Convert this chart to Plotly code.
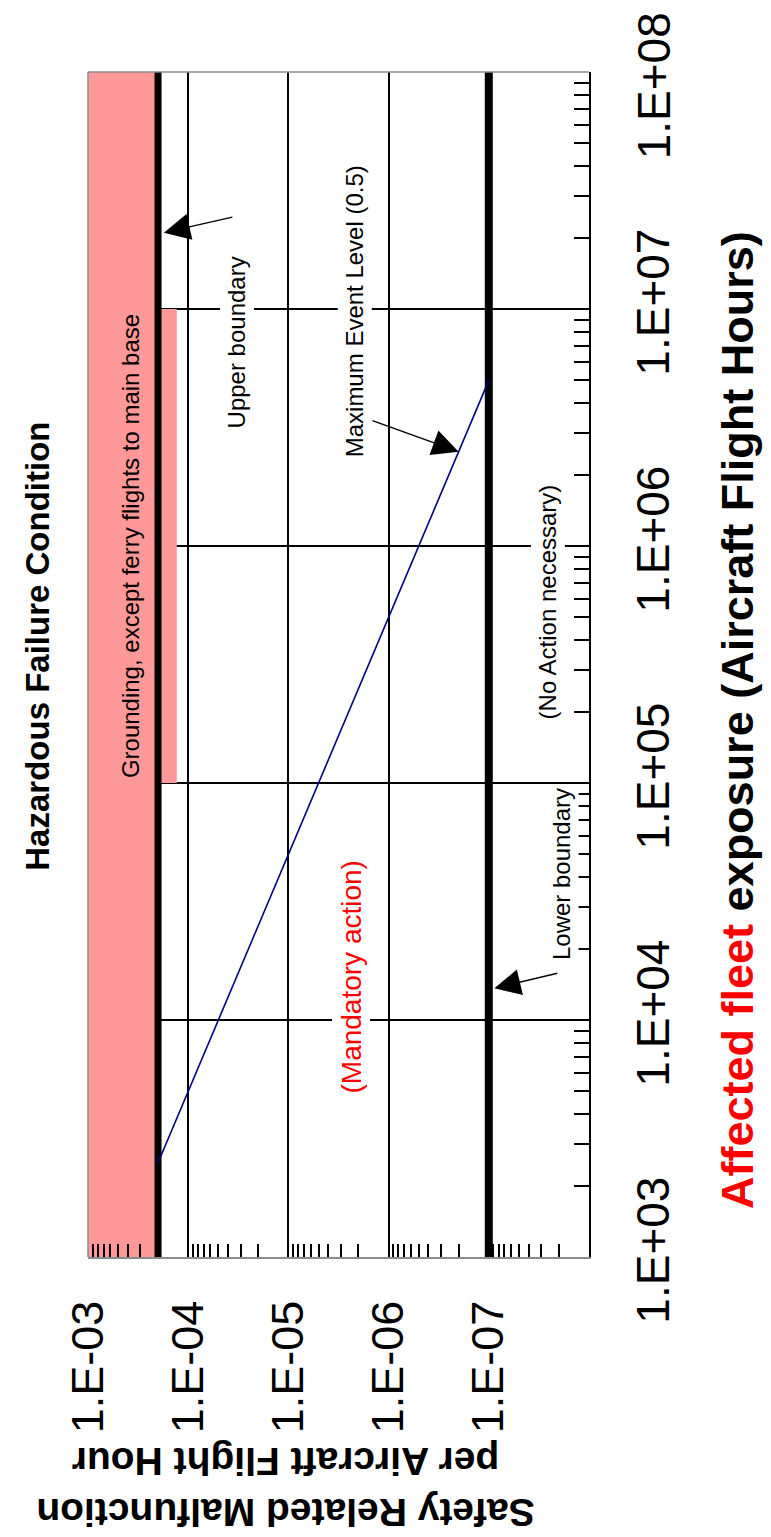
import numpy as np
import plotly.graph_objects as go

# ---------------- data ----------------
hours_range = [1e3, 1e8]                 # affected fleet exposure (flight hours)
rate_range = [1e-3, 1e-8]                # malfunctions per flight hour (reversed)
upper_boundary = 2e-4
lower_boundary = 1e-7
mel_hours = [2.5e3, 5e6]                 # Maximum Event Level (0.5) line
mel_rate = [2e-4, 1e-7]
grounding_rate = [1e-3, 2e-4]            # pink grounding zone
grounding_ext_rate = [2e-4, 1.3e-4]
grounding_ext_hours = [1e5, 1e7]

rate_tickvals = [1e-3, 1e-4, 1e-5, 1e-6, 1e-7]
rate_ticktext = ["1.E-03", "1.E-04", "1.E-05", "1.E-06", "1.E-07"]
hours_tickvals = [1e3, 1e4, 1e5, 1e6, 1e7, 1e8]
hours_ticktext = ["1.E+03", "1.E+04", "1.E+05", "1.E+06", "1.E+07", ""]
top_hours_label = "1.E+08"
minor_mantissas = [2, 3, 4, 5, 6, 7, 8, 9]

rate_minor = [m * d for d in [1e-4, 1e-5, 1e-6, 1e-7, 1e-8] for m in minor_mantissas]
hours_minor = [m * d for d in [1e3, 1e4, 1e5, 1e6, 1e7] for m in minor_mantissas]

FONT = "Liberation Sans, Arial, sans-serif"
PINK = "#FF9999"
L = np.log10

fig = go.Figure()

# grounding zone
fig.add_trace(go.Scatter(
    x=[grounding_rate[0], grounding_rate[1], grounding_rate[1], grounding_rate[0], grounding_rate[0]],
    y=[hours_range[0], hours_range[0], hours_range[1], hours_range[1], hours_range[0]],
    fill="toself", fillcolor=PINK, line=dict(width=0), mode="lines",
    hoverinfo="skip", showlegend=False))
fig.add_trace(go.Scatter(
    x=[grounding_ext_rate[0], grounding_ext_rate[1], grounding_ext_rate[1], grounding_ext_rate[0], grounding_ext_rate[0]],
    y=[grounding_ext_hours[0], grounding_ext_hours[0], grounding_ext_hours[1], grounding_ext_hours[1], grounding_ext_hours[0]],
    fill="toself", fillcolor=PINK, line=dict(width=0), mode="lines",
    hoverinfo="skip", showlegend=False))

# boundaries
fig.add_trace(go.Scatter(x=[upper_boundary, upper_boundary], y=hours_range, mode="lines",
                         line=dict(color="black", width=7), showlegend=False))
fig.add_trace(go.Scatter(x=[lower_boundary, lower_boundary], y=hours_range, mode="lines",
                         line=dict(color="black", width=8), showlegend=False))
# maximum event level
fig.add_trace(go.Scatter(x=mel_rate, y=mel_hours, mode="lines",
                         line=dict(color="#000080", width=1.6), showlegend=False))

fig.update_layout(
    width=763, height=1529,
    margin=dict(l=80, r=182, t=64, b=280),
    paper_bgcolor="white", plot_bgcolor="white",
    font=dict(family=FONT, color="black"),
    showlegend=False,
)

fig.update_xaxes(
    type="log", range=[L(rate_range[0]), L(rate_range[1])],
    tickmode="array", tickvals=rate_tickvals, ticktext=rate_ticktext,
    tickangle=-90, tickfont=dict(size=45, family=FONT),
    ticks="inside", ticklen=15, tickwidth=1.5, tickcolor="black",
    ticklabelstandoff=24,
    showgrid=True, gridcolor="black", gridwidth=1.5,
    showline=True, linecolor="#8c8c8c", linewidth=1.5,
    zeroline=False, layer="above traces",
    minor=dict(tickmode="array", tickvals=rate_minor, ticks="inside",
               ticklen=13, tickwidth=1.5, tickcolor="black", showgrid=False),
)
fig.update_yaxes(
    type="log", range=[L(hours_range[0]), L(hours_range[1])], side="right",
    tickmode="array", tickvals=hours_tickvals, ticktext=hours_ticktext,
    tickangle=-90, tickfont=dict(size=46, family=FONT),
    ticks="inside", ticklen=15, tickwidth=1.5, tickcolor="black",
    ticklabelstandoff=23,
    showgrid=True, gridcolor="black", gridwidth=1.5,
    showline=True, linecolor="black", linewidth=2,
    zeroline=False, layer="above traces",
    minor=dict(tickmode="array", tickvals=hours_minor, ticks="inside",
               ticklen=15, tickwidth=1.5, tickcolor="black", showgrid=False),
)

# gray plot border (left/top)
for x0, y0, x1, y1 in [(0, 0, 0, 1), (0, 1, 1, 1)]:
    fig.add_shape(type="line", xref="paper", yref="paper", x0=x0, y0=y0, x1=x1, y1=y1,
                  line=dict(color="#8c8c8c", width=1.5), layer="above")

anns = []
# top tick label, nudged down to stay inside the page as in the original
anns.append(dict(xref="paper", yref="paper", x=1.130, y=0.988,
                 text=top_hours_label, textangle=-90,
                 font=dict(size=46, family=FONT), showarrow=False,
                 xanchor="center", yanchor="middle"))
# titles
anns.append(dict(xref="paper", yref="paper", x=-0.0998, y=0.515,
                 text="<b>Hazardous Failure Condition</b>", textangle=-90,
                 font=dict(size=33, family=FONT), showarrow=False,
                 xanchor="center", yanchor="middle"))
anns.append(dict(xref="paper", yref="paper", x=1.295, y=0.453,
                 text="<b><span style='color:#FF0000'>Affected fleet</span> exposure (Aircraft Flight Hours)</b>",
                 textangle=-90, font=dict(size=45, family=FONT), showarrow=False,
                 xanchor="center", yanchor="middle"))
anns.append(dict(xref="paper", yref="paper", x=0.394, y=-0.194,
                 text="<b>Safety Related Malfunction<br>per Aircraft Flight Hour</b>", textangle=180,
                 font=dict(size=39, family=FONT), showarrow=False,
                 xanchor="center", yanchor="middle", align="center"))

# region labels
def lab(text, rate, hours, size=24, color="black", bg="white"):
    return dict(x=L(rate), y=L(hours), xref="x", yref="y", text=text, textangle=-90,
                font=dict(size=size, family=FONT, color=color), showarrow=False,
                bgcolor=bg, borderpad=3, xanchor="center", yanchor="middle")

anns.append(lab("Grounding, except ferry flights to main base", 3.8e-4, 1e6, bg=PINK))
anns.append(lab("Upper boundary", 3.3e-5, 10 ** (3 + (1257 - 342) / 237)))
anns.append(lab("Maximum Event Level (0.5)", 2.2e-6, 10 ** (3 + (1257 - 311) / 237)))
anns.append(lab("(No Action necessary)", 2.6e-8, 10 ** (3 + (1257 - 602) / 237)))
anns.append(lab("Lower boundary", 1.9e-8, 10 ** (3 + (1257 - 874) / 237)))
anns.append(lab("(Mandatory action)", 2.4e-6, 10 ** (3 + (1257 - 977) / 237), size=28, color="#FF0000"))

# arrows
def arrow(head_rate, head_hours, tail_rate, tail_hours):
    return dict(x=L(head_rate), y=L(head_hours), xref="x", yref="y",
                ax=L(tail_rate), ay=L(tail_hours), axref="x", ayref="y",
                text="", showarrow=True, arrowhead=2, arrowsize=3.5,
                arrowwidth=1.5, arrowcolor="black")

anns.append(arrow(1.75e-4, 2.1e7, 3.5e-5, 2.45e7))
anns.append(arrow(2.0e-7, 2.5e6, 1.5e-6, 3.4e6))
anns.append(arrow(8.8e-8, 1.36e4, 2.0e-8, 1.58e4))

fig.update_layout(annotations=anns)

fig.write_html("out.html")
